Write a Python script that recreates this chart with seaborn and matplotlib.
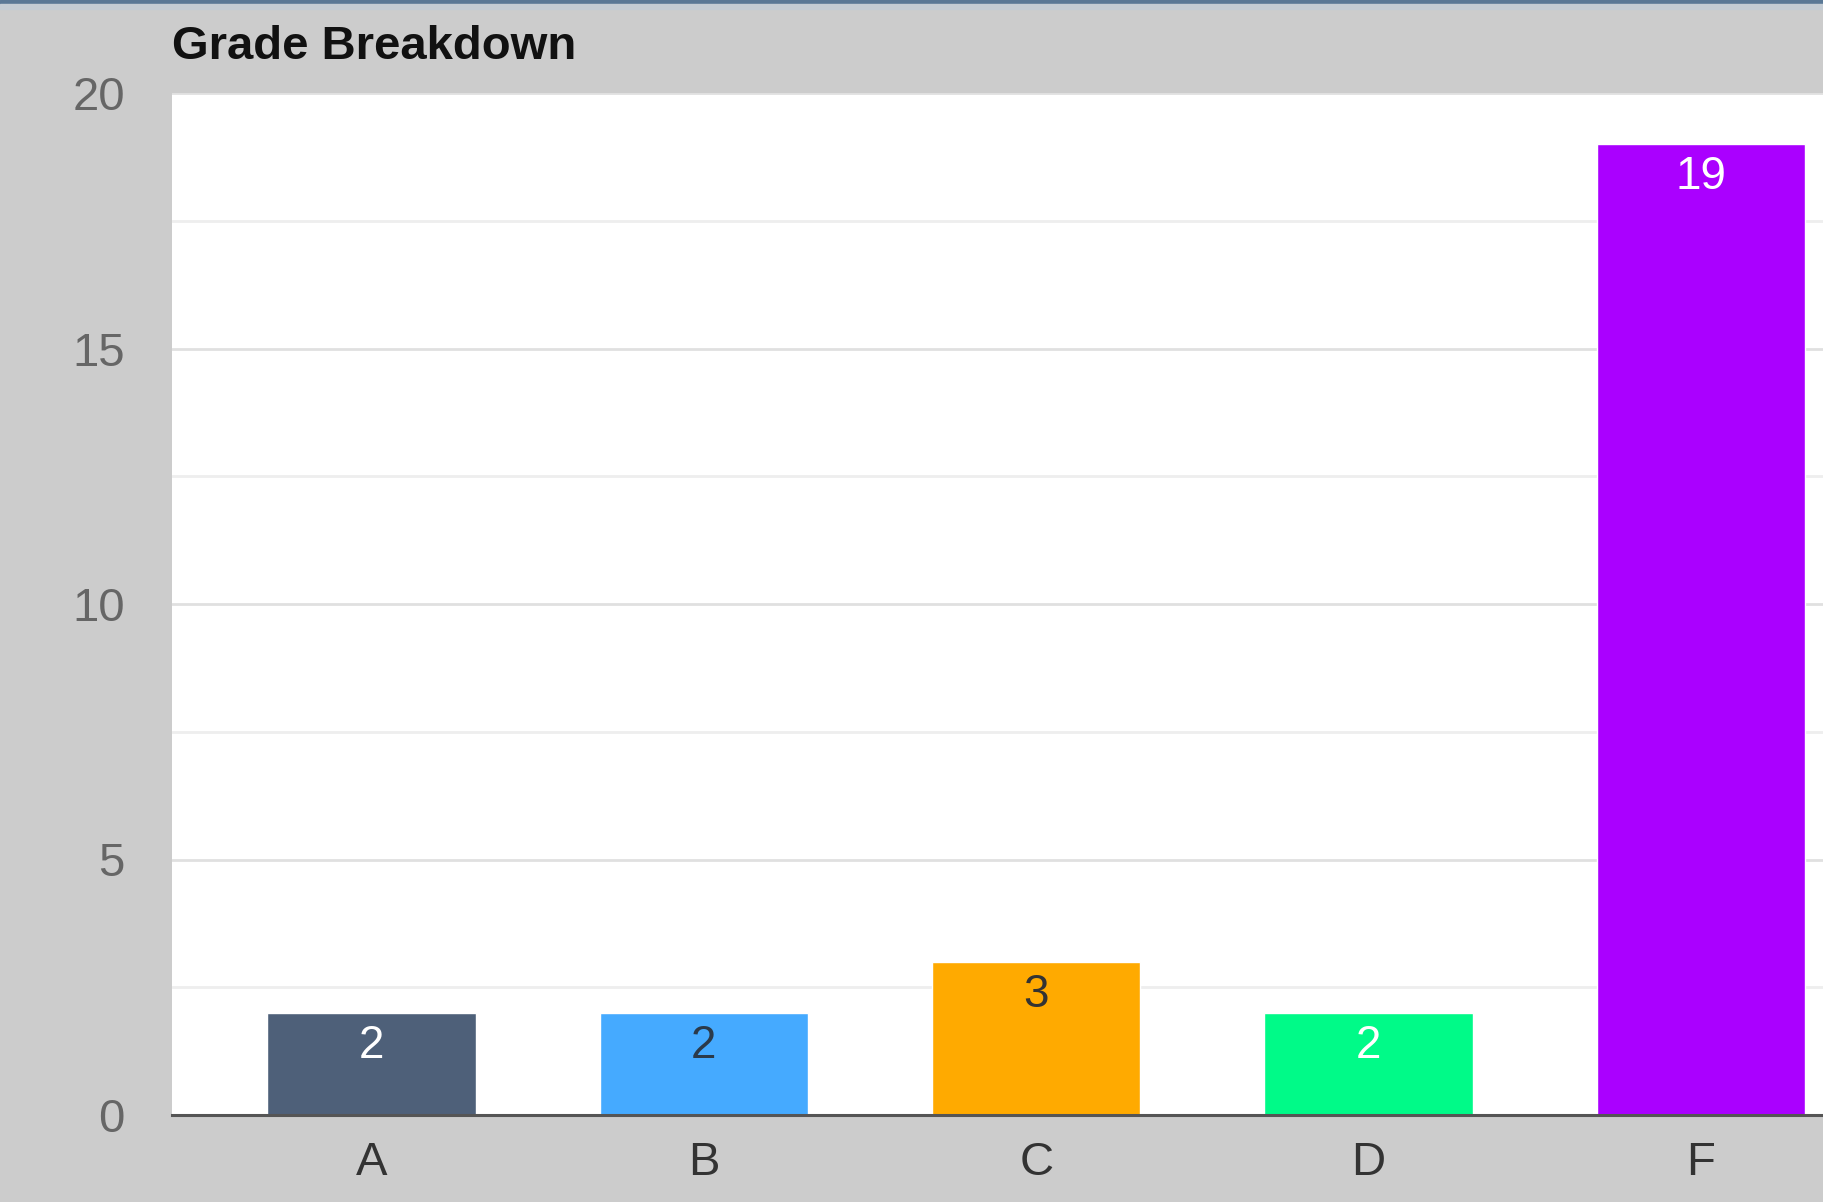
"""
Grade Breakdown - bar chart
"""

import matplotlib
matplotlib.use('Agg')
import matplotlib.pyplot as plt
from matplotlib.patches import Rectangle
import seaborn as sns
import pandas as pd

# data
grades = ['A', 'B', 'C', 'D', 'F']
counts = [2, 2, 3, 2, 19]
bar_colors = ['#4e6079', '#45aaff', '#ffaa00', '#00fa88', '#aa00ff']
label_colors = ['#ffffff', '#2b3a4a', '#333333', '#ffffff', '#ffffff']
y_ticks = [0, 5, 10, 15, 20]

df = pd.DataFrame({'grade': grades, 'count': counts})

sns.set_style('white')
plt.rcParams['font.family'] = ['Liberation Sans', 'DejaVu Sans']

fig = plt.figure(figsize=(18.24, 12.02), dpi=100, facecolor='#cccccc')
ax = fig.add_axes([172 / 1824, 1 - 1115 / 1202, 1 - 172 / 1824, (1115 - 93) / 1202])
ax.set_facecolor('white')

sns.barplot(data=df, x='grade', y='count', hue='grade', palette=bar_colors,
            legend=False, width=0.627, saturation=1, ax=ax, zorder=3)

ax.set_xlim(-0.6, 4.37)
ax.set_ylim(0, 20)

# grid: major every 5, lighter one in between
ax.set_yticks(y_ticks)
ax.set_yticks([2.5, 7.5, 12.5, 17.5], minor=True)
ax.grid(axis='y', which='major', color='#e0e0e0', linewidth=2, zorder=0)
ax.grid(axis='y', which='minor', color='#eeeeee', linewidth=2, zorder=0)
ax.grid(axis='x', visible=False)

for s in ['top', 'left', 'right']:
    ax.spines[s].set_visible(False)
ax.spines['bottom'].set_color('#555555')
ax.spines['bottom'].set_linewidth(2.2)
ax.spines['bottom'].set_zorder(4)

ax.tick_params(axis='y', which='both', length=0, pad=34, labelsize=34, labelcolor='#666666')
ax.tick_params(axis='x', length=0, pad=19, labelsize=34, labelcolor='#333333')
ax.set_xlabel('')
ax.set_ylabel('')

# value labels inside the top of each bar
for i, (v, c) in enumerate(zip(counts, label_colors)):
    ax.annotate(str(v), xy=(i, v), xytext=(0, -24), textcoords='offset points',
                ha='center', va='center', fontsize=33, color=c, zorder=5)

fig.text(172 / 1824, 1 - 47 / 1202, 'Grade Breakdown', fontsize=34,
         fontweight='bold', color='#111111', ha='left', va='center')

# thin window border at the top
fig.add_artist(Rectangle((0, 1 - 4 / 1202), 1, 4 / 1202, transform=fig.transFigure,
                         color='#5a7896', zorder=10))
fig.add_artist(Rectangle((0, 1 - 9 / 1202), 1, 5 / 1202, transform=fig.transFigure,
                         color='#c4ccd4', zorder=10))

plt.savefig('out.png', dpi=100, facecolor=fig.get_facecolor())
